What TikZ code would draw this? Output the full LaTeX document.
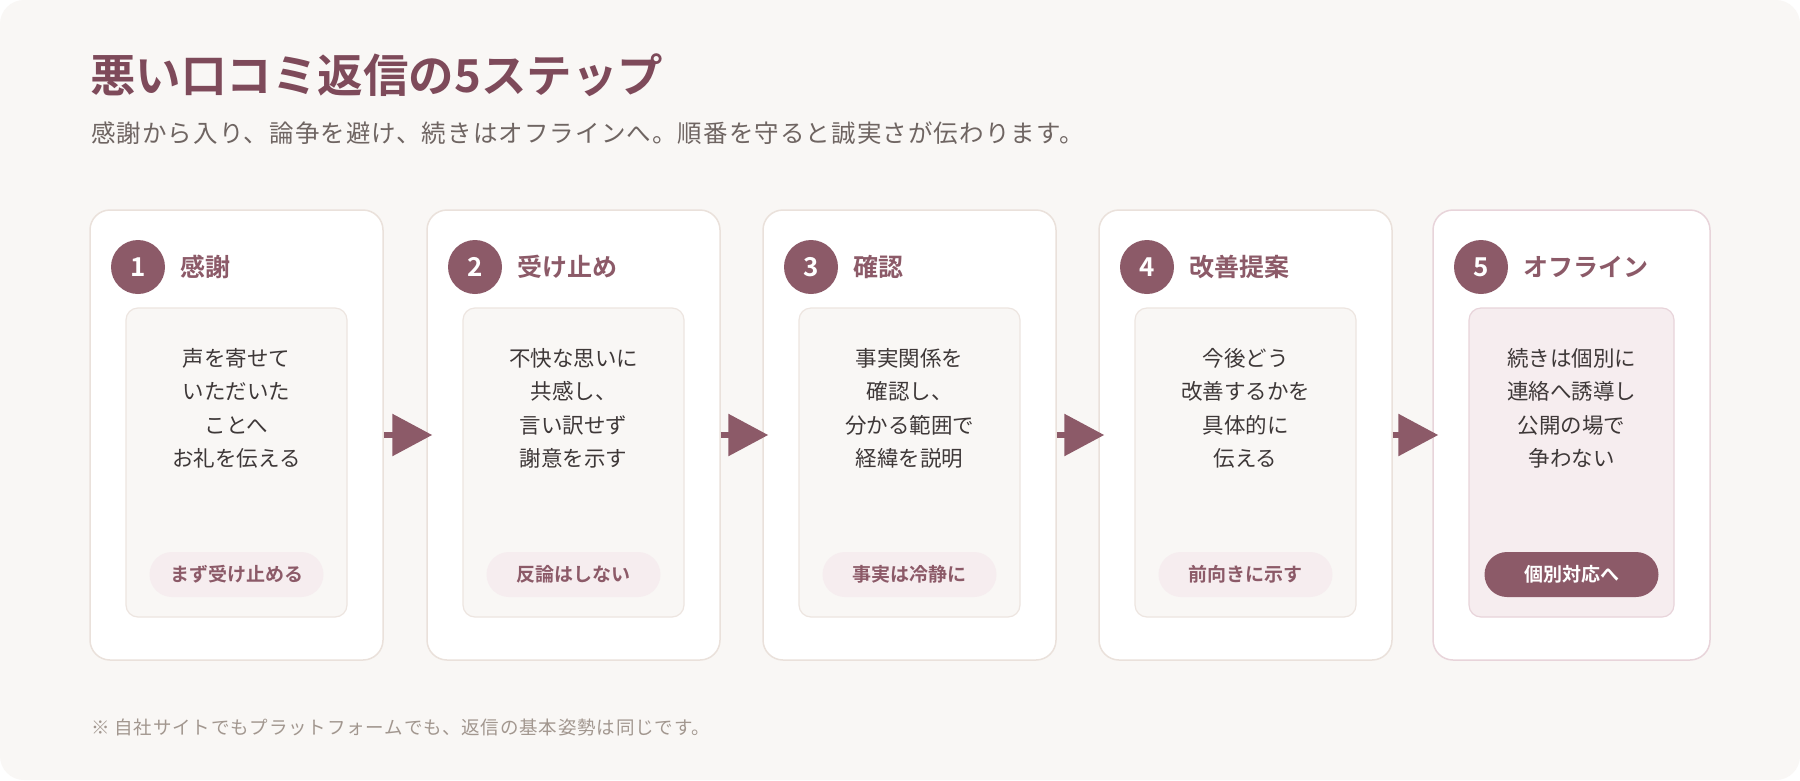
\documentclass[tikz,border=0pt]{standalone}
\usepackage{fontspec}
\setmainfont{Noto Sans CJK JP}[BoldFont={Noto Sans CJK JP Bold}]
\newfontfamily\spacedjp{Noto Sans CJK JP}[LetterSpace=4.5]
\usetikzlibrary{arrows.meta}

\definecolor{pagebg}{HTML}{F9F7F5}
\definecolor{wine}{HTML}{8C5A68}
\definecolor{winedark}{HTML}{7E4A5A}
\definecolor{cardline}{HTML}{EAE1DB}
\definecolor{boxline}{HTML}{EDE5E0}
\definecolor{pinkline}{HTML}{E8D4DA}
\definecolor{pinkfill}{HTML}{F6EDEF}
\definecolor{bodytext}{HTML}{3E3838}
\definecolor{subtext}{HTML}{6F6562}
\definecolor{notetext}{HTML}{A2978F}

\tikzset{
	card/.style={draw=cardline, line width=1.5pt, fill=white, rounded corners=20pt, minimum height=450pt, minimum width=293pt, inner sep=0pt},
	innerbox/.style={draw=boxline, line width=1.2pt, fill=pagebg, rounded corners=12pt, minimum height=309pt, minimum width=221pt, inner sep=0pt},
	badge/.style={circle, fill=wine, minimum size=54pt, inner sep=0pt, text=white, font=\fontsize{26}{26}\selectfont\bfseries},
	heading/.style={anchor=west, text=wine, inner sep=0pt, font=\fontsize{25}{25}\selectfont\bfseries},
	bodytxt/.style={align=center, text=bodytext, inner sep=0pt, font=\fontsize{21.5}{33.5}\selectfont},
	pill/.style={rounded corners=22.5pt, fill=pinkfill, text=wine, minimum width=174pt, minimum height=45pt, inner sep=0pt, font=\fontsize{19}{19}\selectfont\bfseries},
	flow/.style={draw=wine, line width=6pt, -{Triangle[length=40pt,width=41pt]}}
}

\begin{document}
\begin{tikzpicture}[x=1pt, y=-1pt]
		%%%%% START %%%%%
		
		\useasboundingbox (0, 0) rectangle (1800, 780);
		\fill[white] (0, 0) rectangle (1800, 780);
		\fill[pagebg, rounded corners=24pt] (0, 0) rectangle (1800, 780);
		
		\node[anchor=west, text=winedark, inner sep=0pt, font=\fontsize{45.5}{45.5}\selectfont\bfseries] (title) at (90, 75) {悪い口コミ返信の5ステップ};
		\node[anchor=west, text=subtext, inner sep=0pt, font=\spacedjp\fontsize{24.5}{24.5}\selectfont] (lead) at (91, 133) {感謝から入り、論争を避け、続きはオフラインへ。順番を守ると誠実さが伝わります。};
		
		% step 1
		\node[card] (step1) at (236.5, 435) {};
		\node[innerbox] (body1) at (236.5, 462.5) {};
		\node[badge] (num1) at (138, 267) {1};
		\node[heading] (head1) at (180, 267) {感謝};
		\node[bodytxt] (text1) at (236.5, 408.5) {声を寄せて\\いただいた\\ことへ\\お礼を伝える};
		\node[pill] (tag1) at (236.5, 574.5) {まず受け止める};
		
		% step 2
		\node[card] (step2) at (573.5, 435) {};
		\node[innerbox] (body2) at (573.5, 462.5) {};
		\node[badge] (num2) at (475, 267) {2};
		\node[heading] (head2) at (517, 267) {受け止め};
		\node[bodytxt] (text2) at (573.5, 408.5) {不快な思いに\\共感し、\\言い訳せず\\謝意を示す};
		\node[pill] (tag2) at (573.5, 574.5) {反論はしない};
		
		% step 3
		\node[card] (step3) at (909.5, 435) {};
		\node[innerbox] (body3) at (909.5, 462.5) {};
		\node[badge] (num3) at (811, 267) {3};
		\node[heading] (head3) at (853, 267) {確認};
		\node[bodytxt] (text3) at (909.5, 408.5) {事実関係を\\確認し、\\分かる範囲で\\経緯を説明};
		\node[pill] (tag3) at (909.5, 574.5) {事実は冷静に};
		
		% step 4
		\node[card] (step4) at (1245.5, 435) {};
		\node[innerbox] (body4) at (1245.5, 462.5) {};
		\node[badge] (num4) at (1147, 267) {4};
		\node[heading] (head4) at (1189, 267) {改善提案};
		\node[bodytxt] (text4) at (1245.5, 408.5) {今後どう\\改善するかを\\具体的に\\伝える};
		\node[pill] (tag4) at (1245.5, 574.5) {前向きに示す};
		
		% step 5, highlighted
		\node[card, draw=pinkline, minimum width=277pt] (step5) at (1571.5, 435) {};
		\node[innerbox, draw=pinkline, fill=pinkfill, minimum width=205pt] (body5) at (1571.5, 462.5) {};
		\node[badge] (num5) at (1481, 267) {5};
		\node[heading] (head5) at (1523, 267) {オフライン};
		\node[bodytxt] (text5) at (1571.5, 408.5) {続きは個別に\\連絡へ誘導し\\公開の場で\\争わない};
		\node[pill, fill=wine, text=white] (tag5) at (1571.5, 574.5) {個別対応へ};
		
		\draw[flow] (step1.east) -- ([xshift=6pt]step2.west);
		\draw[flow] (step2.east) -- ([xshift=6pt]step3.west);
		\draw[flow] (step3.east) -- ([xshift=6pt]step4.west);
		\draw[flow] (step4.east) -- ([xshift=6pt]step5.west);
		
		\node[anchor=west, text=notetext, inner sep=0pt, font=\spacedjp\fontsize{18.5}{18.5}\selectfont] (note) at (91, 727) {※ 自社サイトでもプラットフォームでも、返信の基本姿勢は同じです。};
		
		%%%%% END %%%%%
\end{tikzpicture}
\end{document}
